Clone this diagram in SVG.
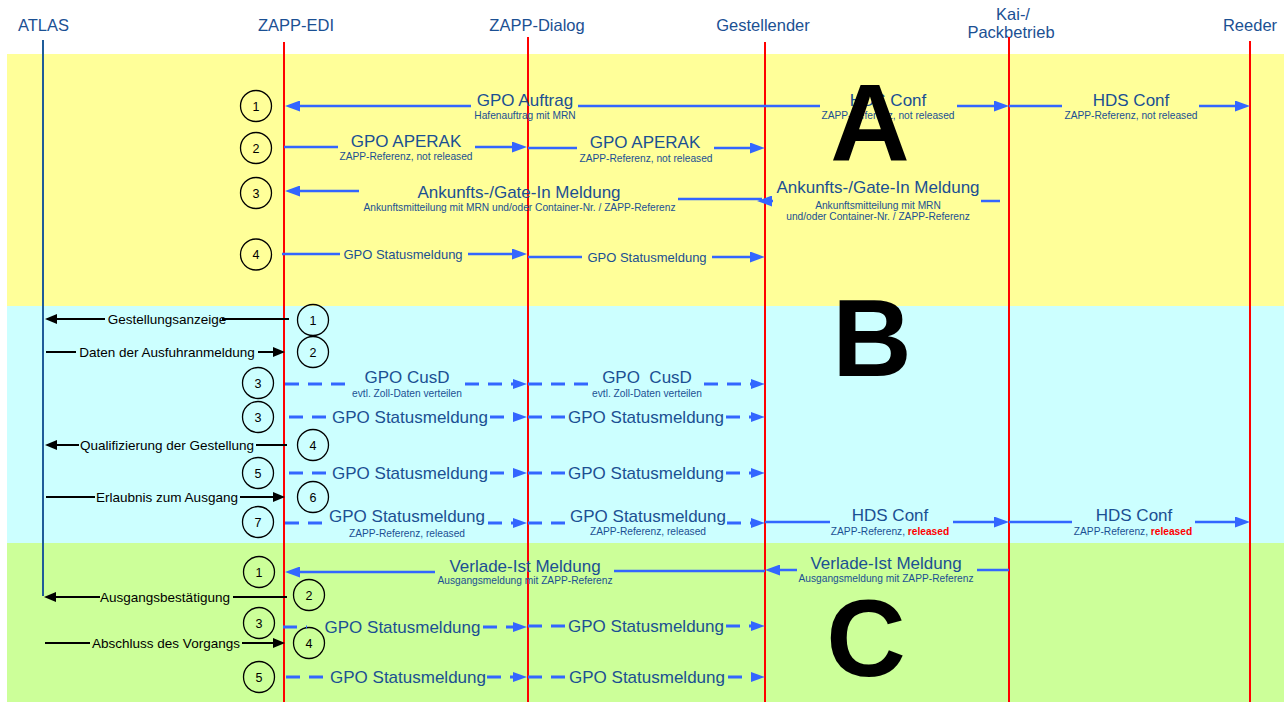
<svg xmlns="http://www.w3.org/2000/svg" width="1284" height="702" viewBox="0 0 1284 702">
<style>
.t{font-family:"Liberation Sans",Arial,sans-serif;text-anchor:middle}
.hdr{font-size:16.5px;fill:#1B5093}
.big{font-size:17px;fill:#1B5093}
.med{font-size:13px;fill:#1B5093}
.sub{font-size:10.2px;fill:#1B5093}
.blk{font-size:13.5px;fill:#000}
.num{font-size:12.5px;fill:#000}
.let{font-size:110px;font-weight:bold;fill:#000}
.red{fill:#FF0000;font-weight:bold}
.life{stroke:#FF0000;stroke-width:2;fill:none}
.msg{stroke:#3366FF;stroke-width:2.5;fill:none}
.dsh{stroke:#3366FF;stroke-width:3;stroke-dasharray:14 9;fill:none}
.bl{stroke:#000;stroke-width:2;fill:none}
.circ{fill:none;stroke:#000;stroke-width:1.3}
</style>
<defs>
<marker id="ab" markerUnits="userSpaceOnUse" markerWidth="15" markerHeight="11" refX="7" refY="5.5" orient="auto"><path d="M0,0 L15,5.5 L0,11 z" fill="#3366FF"/></marker>
<marker id="ad" markerUnits="userSpaceOnUse" markerWidth="14" markerHeight="10" refX="6" refY="5" orient="auto"><path d="M0,0 L14,5 L0,10 z" fill="#3366FF"/></marker>
<marker id="ak" markerUnits="userSpaceOnUse" markerWidth="12" markerHeight="10" refX="5" refY="5" orient="auto"><path d="M0,0 L12,5 L0,10 z" fill="#000"/></marker>
</defs>
<rect x="0" y="0" width="1284" height="702" fill="#fff"/>
<g id="bands">
<rect x="7" y="54" width="1277" height="252" fill="#FFFF99"/>
<rect x="7" y="306" width="1277" height="237" fill="#CCFFFF"/>
<rect x="7" y="543" width="1277" height="159" fill="#CCFF99"/>
</g>
<g id="atlas"><text class="t hdr" x="43.5" y="31">ATLAS</text><line x1="43" y1="40" x2="43" y2="596" stroke="#1F5C99" stroke-width="2"/></g>
<g id="zapp-edi"><text class="t hdr" x="296" y="31">ZAPP-EDI</text><line class="life" x1="284" y1="42" x2="284" y2="702"/></g>
<g id="zapp-dialog"><text class="t hdr" x="537" y="31">ZAPP-Dialog</text><line class="life" x1="528" y1="37" x2="528" y2="702"/></g>
<g id="gestellender"><text class="t hdr" x="763" y="31">Gestellender</text><line class="life" x1="765" y1="42" x2="765" y2="702"/></g>
<g id="kai"><text class="t hdr" x="1013" y="20">Kai-/</text><text class="t hdr" x="1011" y="38">Packbetrieb</text><line class="life" x1="1009" y1="37" x2="1009" y2="702"/></g>
<g id="reeder"><text class="t hdr" x="1250" y="31">Reeder</text><line class="life" x1="1250" y1="41" x2="1250" y2="702"/></g>
<g id="steps">
<circle class="circ" cx="256" cy="106" r="15.5"/><text class="t num" x="256" y="110.5">1</text>
<circle class="circ" cx="256" cy="148" r="15.5"/><text class="t num" x="256" y="152.5">2</text>
<circle class="circ" cx="256" cy="193" r="15.5"/><text class="t num" x="256" y="197.5">3</text>
<circle class="circ" cx="256" cy="254.5" r="15.5"/><text class="t num" x="256" y="259">4</text>
<circle class="circ" cx="313" cy="320" r="15.5"/><text class="t num" x="313" y="324.5">1</text>
<circle class="circ" cx="313" cy="352" r="15.5"/><text class="t num" x="313" y="356.5">2</text>
<circle class="circ" cx="258" cy="383" r="15.5"/><text class="t num" x="258" y="387.5">3</text>
<circle class="circ" cx="258" cy="417" r="15.5"/><text class="t num" x="258" y="421.5">3</text>
<circle class="circ" cx="313" cy="445" r="15.5"/><text class="t num" x="313" y="449.5">4</text>
<circle class="circ" cx="258" cy="473" r="15.5"/><text class="t num" x="258" y="477.5">5</text>
<circle class="circ" cx="313" cy="497" r="15.5"/><text class="t num" x="313" y="501.5">6</text>
<circle class="circ" cx="258" cy="522" r="15.5"/><text class="t num" x="258" y="526.5">7</text>
<circle class="circ" cx="259" cy="572" r="15.5"/><text class="t num" x="259" y="576.5">1</text>
<circle class="circ" cx="309" cy="595" r="15.5"/><text class="t num" x="309" y="599.5">2</text>
<circle class="circ" cx="259" cy="623" r="15.5"/><text class="t num" x="259" y="627.5">3</text>
<circle class="circ" cx="309" cy="643" r="15.5"/><text class="t num" x="309" y="647.5">4</text>
<circle class="circ" cx="259" cy="677" r="15.5"/><text class="t num" x="259" y="681.5">5</text>
</g>
<g id="connectors">
<!-- A row 1 -->
<line class="msg" x1="471" y1="106" x2="293" y2="106" marker-end="url(#ab)"/>
<line class="msg" x1="578" y1="106" x2="820" y2="106"/>
<line class="msg" x1="957" y1="106" x2="1001" y2="106" marker-end="url(#ab)"/>
<line class="msg" x1="1009" y1="106" x2="1062" y2="106"/>
<line class="msg" x1="1199" y1="106" x2="1242" y2="106" marker-end="url(#ab)"/>
<!-- A row 2 -->
<line class="msg" x1="284" y1="147" x2="338" y2="147"/>
<line class="msg" x1="475" y1="147" x2="519" y2="147" marker-end="url(#ab)"/>
<line class="msg" x1="528" y1="148" x2="577" y2="148"/>
<line class="msg" x1="714" y1="148" x2="757" y2="148" marker-end="url(#ab)"/>
<!-- A row 3 -->
<line class="msg" x1="359" y1="191" x2="293" y2="191" marker-end="url(#ab)"/>
<line class="msg" x1="678" y1="199" x2="762" y2="199"/>
<line class="msg" x1="1000" y1="201" x2="981" y2="201"/>
<line class="msg" x1="773" y1="201" x2="765" y2="201" marker-end="url(#ab)"/>
<!-- A row 4 -->
<line class="msg" x1="282" y1="254" x2="340" y2="254"/>
<line class="msg" x1="468" y1="254" x2="519" y2="254" marker-end="url(#ab)"/>
<line class="msg" x1="528" y1="257" x2="582" y2="257"/>
<line class="msg" x1="712" y1="257" x2="757" y2="257" marker-end="url(#ab)"/>
<!-- B -->
<line class="bl" x1="289" y1="319" x2="222" y2="319"/>
<line class="bl" x1="105" y1="319" x2="52" y2="319" marker-end="url(#ak)"/>
<line class="bl" x1="46" y1="352" x2="76" y2="352"/>
<line class="bl" x1="258" y1="352" x2="278" y2="352" marker-end="url(#ak)"/>
<line class="dsh" x1="285" y1="384" x2="348" y2="384"/>
<line class="dsh" x1="465" y1="384" x2="519" y2="384" marker-end="url(#ad)"/>
<line class="dsh" x1="528" y1="384" x2="590" y2="384"/>
<line class="dsh" x1="704" y1="384" x2="757" y2="384" marker-end="url(#ad)"/>
<line class="dsh" x1="289" y1="417" x2="331" y2="417"/>
<line class="dsh" x1="490" y1="417" x2="519" y2="417" marker-end="url(#ad)"/>
<line class="dsh" x1="528" y1="417" x2="567" y2="417"/>
<line class="dsh" x1="726" y1="417" x2="757" y2="417" marker-end="url(#ad)"/>
<line class="bl" x1="287" y1="445" x2="256" y2="445"/>
<line class="bl" x1="79" y1="445" x2="52" y2="445" marker-end="url(#ak)"/>
<line class="dsh" x1="289" y1="473" x2="331" y2="473"/>
<line class="dsh" x1="490" y1="473" x2="519" y2="473" marker-end="url(#ad)"/>
<line class="dsh" x1="528" y1="473" x2="567" y2="473"/>
<line class="dsh" x1="726" y1="473" x2="757" y2="473" marker-end="url(#ad)"/>
<line class="bl" x1="46" y1="497" x2="95" y2="497"/>
<line class="bl" x1="240" y1="497" x2="278" y2="497" marker-end="url(#ak)"/>
<line class="dsh" x1="285" y1="523" x2="327" y2="523"/>
<line class="dsh" x1="488" y1="523" x2="519" y2="523" marker-end="url(#ad)"/>
<line class="dsh" x1="528" y1="523" x2="568" y2="523"/>
<line class="dsh" x1="727" y1="523" x2="757" y2="523" marker-end="url(#ad)"/>
<line class="msg" x1="765" y1="522" x2="830" y2="522"/>
<line class="msg" x1="953" y1="522" x2="1001" y2="522" marker-end="url(#ab)"/>
<line class="msg" x1="1009" y1="522" x2="1072" y2="522"/>
<line class="msg" x1="1195" y1="522" x2="1242" y2="522" marker-end="url(#ab)"/>
<!-- C -->
<line class="msg" x1="435" y1="572" x2="293" y2="572" marker-end="url(#ab)"/>
<line class="msg" x1="614" y1="571" x2="765" y2="571"/>
<line class="msg" x1="797" y1="570" x2="773" y2="570" marker-end="url(#ab)"/>
<line class="msg" x1="977" y1="570" x2="1009" y2="570"/>
<line class="bl" x1="287" y1="597" x2="233" y2="597"/>
<line class="bl" x1="100" y1="597" x2="51" y2="597" marker-end="url(#ak)"/>
<line class="dsh" x1="283" y1="627" x2="307" y2="627"/>
<line class="dsh" x1="483" y1="627" x2="519" y2="627" marker-end="url(#ad)"/>
<line class="dsh" x1="528" y1="626" x2="566" y2="626"/>
<line class="dsh" x1="726" y1="626" x2="757" y2="626" marker-end="url(#ad)"/>
<line class="bl" x1="45" y1="643" x2="90" y2="643"/>
<line class="bl" x1="242" y1="643" x2="278" y2="643" marker-end="url(#ak)"/>
<line class="dsh" x1="286" y1="677" x2="328" y2="677"/>
<line class="dsh" x1="487" y1="677" x2="519" y2="677" marker-end="url(#ad)"/>
<line class="dsh" x1="528" y1="677" x2="567" y2="677"/>
<line class="dsh" x1="728" y1="677" x2="757" y2="677" marker-end="url(#ad)"/>
</g>
<g id="labels">
<text class="t big" x="525" y="106">GPO Auftrag</text><text class="t sub" x="525" y="119">Hafenauftrag mit MRN</text>
<text class="t big" x="888" y="106">HDS Conf</text><text class="t sub" x="888" y="119">ZAPP-Referenz, not released</text>
<text class="t big" x="1131" y="106">HDS Conf</text><text class="t sub" x="1131" y="119">ZAPP-Referenz, not released</text>
<text class="t big" x="406" y="147">GPO APERAK</text><text class="t sub" x="406" y="160">ZAPP-Referenz, not released</text>
<text class="t big" x="645" y="148">GPO APERAK</text><text class="t sub" x="646" y="162">ZAPP-Referenz, not released</text>
<text class="t big" x="519" y="198">Ankunfts-/Gate-In Meldung</text><text class="t sub" x="519.5" y="211">Ankunftsmitteilung mit MRN und/oder Container-Nr. / ZAPP-Referenz</text>
<text class="t big" x="878" y="193">Ankunfts-/Gate-In Meldung</text><text class="t sub" x="878" y="209">Ankunftsmitteilung mit MRN</text><text class="t sub" x="878" y="220">und/oder Container-Nr. / ZAPP-Referenz</text>
<text class="t med" x="403" y="258.5">GPO Statusmeldung</text>
<text class="t med" x="647" y="261.5">GPO Statusmeldung</text>
<text class="t blk" x="167" y="323.5">Gestellungsanzeige</text>
<text class="t blk" x="167" y="356.5">Daten der Ausfuhranmeldung</text>
<text class="t big" x="407" y="383">GPO CusD</text><text class="t sub" x="407" y="397">evtl. Zoll-Daten verteilen</text>
<text class="t big" x="647" y="383" xml:space="preserve">GPO  CusD</text><text class="t sub" x="647" y="397">evtl. Zoll-Daten verteilen</text>
<text class="t big" x="410" y="423">GPO Statusmeldung</text>
<text class="t big" x="646" y="423">GPO Statusmeldung</text>
<text class="t blk" x="167" y="449.5">Qualifizierung der Gestellung</text>
<text class="t big" x="410" y="479">GPO Statusmeldung</text>
<text class="t big" x="646" y="479">GPO Statusmeldung</text>
<text class="t blk" x="167" y="501.5">Erlaubnis zum Ausgang</text>
<text class="t big" x="407" y="522">GPO Statusmeldung</text><text class="t sub" x="407" y="537">ZAPP-Referenz, released</text>
<text class="t big" x="648" y="522">GPO Statusmeldung</text><text class="t sub" x="648" y="535">ZAPP-Referenz, released</text>
<text class="t big" x="890" y="521">HDS Conf</text><text class="t sub" x="890" y="535">ZAPP-Referenz, <tspan class="red">released</tspan></text>
<text class="t big" x="1134" y="521">HDS Conf</text><text class="t sub" x="1133" y="535">ZAPP-Referenz, <tspan class="red">released</tspan></text>
<text class="t big" x="525" y="572">Verlade-Ist Meldung</text><text class="t sub" x="525" y="584">Ausgangsmeldung mit ZAPP-Referenz</text>
<text class="t big" x="886" y="569">Verlade-Ist Meldung</text><text class="t sub" x="886" y="582">Ausgangsmeldung mit ZAPP-Referenz</text>
<text class="t blk" x="165" y="601.5">Ausgangsbestätigung</text>
<text class="t big" x="402.5" y="633">GPO Statusmeldung</text>
<text class="t big" x="646" y="632">GPO Statusmeldung</text>
<text class="t blk" x="166" y="647.5">Abschluss des Vorgangs</text>
<text class="t big" x="408" y="683">GPO Statusmeldung</text>
<text class="t big" x="647" y="683">GPO Statusmeldung</text>
</g>
<g id="section-a"><text class="t let" x="870" y="160">A</text></g>
<g id="section-b"><text class="t let" x="872" y="376">B</text></g>
<g id="section-c"><text class="t let" x="866" y="676">C</text></g>
</svg>
